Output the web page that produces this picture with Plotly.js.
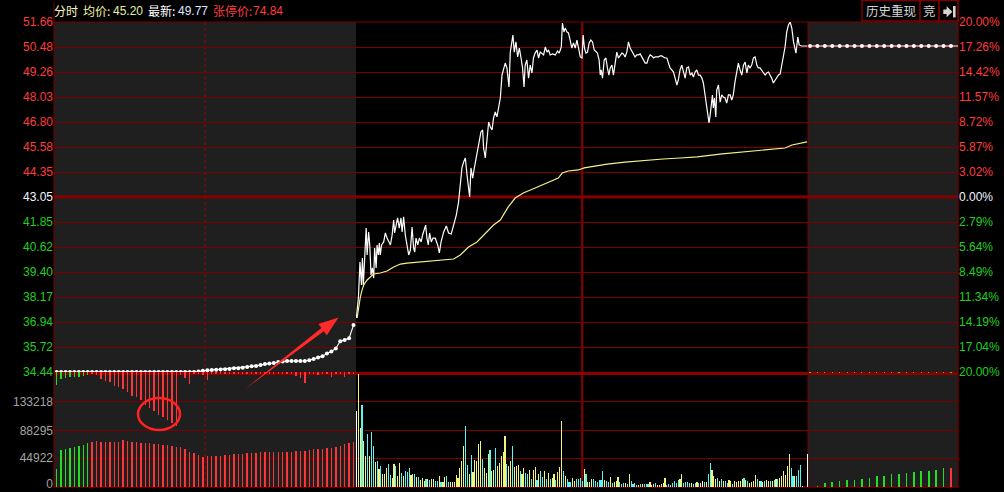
<!DOCTYPE html>
<html><head><meta charset="utf-8">
<script src="https://cdn.plot.ly/plotly-3.0.1.min.js"></script>
<style>html,body{margin:0;padding:0;background:#000;overflow:hidden}#chart{width:1004px;height:492px}</style>
</head><body><div id="chart"></div>
<script>
// ---------------- DATA ----------------
const prevClose = 43.05;
const header = {avg:'45.20', last:'49.77', limit:'74.84'};

// call-auction section (left grey area)
const auctionPrice = [34.44,34.44,34.44,34.44,34.44,34.44,34.44,34.44,34.44,34.44,34.44,34.44,34.44,34.44,34.44,34.44,
34.44,34.44,34.44,34.44,34.44,34.44,34.44,34.44,34.44,34.44,34.44,34.44,34.44,34.44,34.44,34.44,
34.46,34.50,34.52,34.54,34.55,34.56,34.58,34.59,34.62,34.63,34.65,34.68,34.72,34.74,34.78,34.83,34.86,34.88,
34.93,34.96,34.98,34.98,34.98,34.98,34.98,35.02,35.08,35.15,35.22,35.35,35.45,35.60,35.95,36.02,36.10,36.75];
const auctionVolume = [27600,57800,58900,60400,62000,64000,65600,69200,
70800,71900,70800,70800,70800,70800,70800,73400,71900,70800,
69800,68200,69200,68200,66700,66700,65600,65600,64000,62000,
62000,58900,55200,52600,50000,47400,48400,48400,48400,48900,
50000,50000,51000,51500,51500,52600,52600,53600,54200,54700,
54700,55200,55200,55200,55200,55200,56200,56700,56700,57800,
58900,59400,59800,60400,60400,62900,64500,67200,69500,70800];
const auctionVolDir = 'GGGGGGGGRRRRRRRRRRRRRRRRRRRRRRRRRRRRRRRRRRRRRRRRRRRRRRRRRRRRRRRRRRRR'.split('');
// unmatched volume (negative = sell side, green)
const auctionUnmatched = [-20300,-10900,-9400,-7800,-7800,-7800,-6200,-4700,
3100,4700,10900,14100,15600,21900,23400,26600,31200,37500,39100,43700,51500,56200,60900,67200,70300,75000,79700,84300,
4700,9400,18700,3100,3100,4700,12500,3100,3100,3100,3100,3100,3100,3100,3100,3100,3100,3100,3100,3100,3100,3100,3100,3100,3100,3100,
6200,9400,17200,3100,3100,4700,3100,3100,7800,3100,3100,7800,3100,3100];

// continuous trading (minutes after 09:30, 0..240)
const mainMinute = [0,1.1,1.9,2.7,3.2,3.7,5.2,5.7,6.5,7.1,
7.8,8.5,9.2,9.7,10.5,11.0,11.7,12.2,12.7,13.4,
14.5,15.4,16.3,17.2,18.1,19.0,19.8,20.3,21.1,21.9,
22.8,23.7,24.3,25.1,26.0,26.9,27.8,28.7,29.6,30.4,
31.0,31.7,32.6,33.5,34.4,35.2,36.1,36.8,37.5,38.2,
38.9,39.8,40.7,41.9,43.2,44.1,45.0,46.4,47.8,49.0,
50.4,51.7,53.1,54.3,55.2,56.1,57.0,57.9,58.8,59.6,
60.2,60.9,61.8,62.7,63.6,64.4,65.3,66.2,67.1,67.6,
68.5,69.4,70.3,71.2,72.1,72.9,73.8,74.7,75.6,76.5,
77.4,78.2,79.1,80.0,80.6,81.1,81.8,82.7,83.2,83.9,
84.8,85.7,86.6,87.5,88.3,89.1,89.7,90.6,91.5,92.4,
93.3,94.1,95.0,96.0,96.8,97.7,98.6,99.5,100.4,101.3,
102.1,103.0,104.2,105.7,106.9,107.8,108.9,109.5,110.3,111.0,
111.9,112.7,113.6,114.5,115.4,116.3,117.2,118.1,119.0,119.9,
120.5,121.2,122.0,122.8,123.7,124.6,125.5,126.4,127.3,128.1,
129.0,129.6,130.1,130.8,131.7,132.6,133.4,134.2,134.9,135.8,
136.6,137.5,138.4,139.3,140.2,141.1,141.9,142.8,143.7,144.6,
145.5,146.4,147.2,148.1,149.0,149.9,150.8,151.7,152.6,153.5,
154.4,155.2,156.1,157.0,157.9,158.8,159.7,160.5,161.4,162.3,
163.2,164.1,165.0,165.8,166.7,167.6,168.5,169.4,170.3,171.1,
172.0,172.9,173.8,174.7,175.6,176.5,177.4,178.3,179.1,180.0,
180.9,181.8,182.7,183.6,184.4,185.3,186.2,186.9,187.4,188.0,
188.5,189.2,189.7,190.3,191.0,191.5,192.4,193.3,194.2,195.0,
195.9,196.8,197.7,198.6,199.5,200.3,201.2,202.1,203.0,203.9,
204.8,205.7,206.6,207.5,208.3,209.2,210.1,211.0,211.9,212.8,
213.6,214.5,215.4,216.3,217.2,218.1,219.0,219.8,220.7,221.6,
222.5,223.4,224.3,225.2,226.1,226.9,227.8,228.7,229.6,230.5,
231.4,232.3,232.8,233.6,234.1,234.6,235.3,236.4,237.5,238.6,239.7];
const mainPrice = [37.10,38.13,39.85,38.72,40.05,38.72,41.52,40.20,41.33,40.69,
39.21,39.56,39.06,40.54,39.56,40.69,40.20,40.79,40.20,40.69,
40.84,41.28,41.03,40.84,40.69,41.18,41.92,41.28,41.67,42.02,
41.52,42.02,41.33,42.07,41.18,40.69,40.20,40.44,41.57,40.54,
40.34,41.03,40.69,41.03,40.84,41.18,41.42,41.67,41.03,40.69,
41.28,40.84,41.03,41.03,40.69,40.30,40.84,41.33,41.62,41.28,
41.23,41.67,42.16,42.80,43.79,44.48,44.77,44.97,44.13,43.49,
43.05,44.48,43.98,44.48,44.97,45.46,45.95,46.25,46.35,45.46,
44.97,45.76,46.74,46.49,46.35,46.94,47.23,46.99,47.43,47.92,
49.05,49.40,49.64,49.40,48.71,48.46,50.18,50.87,51.02,50.18,
50.68,49.94,50.38,49.89,49.40,48.46,49.54,49.79,48.90,49.54,
49.15,49.89,50.13,50.28,49.89,50.18,50.13,50.04,50.43,50.18,
50.28,50.04,50.09,50.04,50.23,50.13,50.43,51.61,51.17,51.36,
51.17,51.12,50.77,50.38,50.63,50.38,50.77,50.38,49.94,49.89,
51.02,50.38,50.13,50.18,50.63,50.77,50.68,50.28,50.18,50.13,
49.79,49.05,49.30,48.90,49.79,49.89,49.40,49.05,49.40,49.54,
49.05,49.64,50.18,49.89,50.04,50.13,50.09,49.94,50.18,50.68,
50.38,50.23,50.13,49.94,50.04,50.04,50.09,49.94,49.79,49.64,
49.64,49.89,50.04,49.99,49.89,49.94,49.94,49.94,49.99,49.99,
49.94,49.89,49.89,49.64,49.40,49.30,49.20,48.90,48.56,48.81,
49.30,49.54,49.15,48.90,49.40,49.45,49.05,49.15,48.95,49.20,
49.30,49.05,49.05,48.90,48.66,48.07,47.72,47.08,46.69,47.08,
47.58,48.07,47.43,47.92,46.99,48.31,48.56,47.72,48.07,47.97,
47.92,47.67,48.07,48.07,47.82,48.07,48.71,49.15,49.64,49.30,
49.05,49.54,49.69,49.15,49.54,49.40,49.54,49.89,49.94,49.54,
49.40,49.40,49.30,49.15,49.05,49.15,49.20,49.05,48.90,48.66,
48.81,48.95,49.05,49.10,49.54,49.94,50.43,51.17,51.51,51.66,
51.36,50.68,50.38,50.13,50.53,50.92,50.53,50.48,50.48,50.48,50.48];
const avgMinute = [0.4,1.2,2.1,3.0,3.9,5.7,7.4,9.2,12.7,16.3,19.8,23.4,26.9,32.2,37.5,44.6,51.7,55.2,57.9,59.6,
64.1,66.7,69.4,72.9,76.5,78.2,80.7,84.4,88.7,95.0,102.0,107.3,109.4,112.6,117.9,121.1,124.3,133.3,142.8,154.5,
163.0,172.0,181.1,194.4,206.6,217.2,227.8,231.5,236.8,239.5];
const avgPrice = [37.10,37.64,38.13,38.47,38.72,38.97,39.11,39.26,39.31,39.41,39.61,39.75,39.80,39.85,39.90,39.95,40.00,40.20,40.44,40.59,
40.84,41.08,41.33,41.67,41.92,42.16,42.56,43.00,43.25,43.49,43.79,43.98,44.23,44.33,44.38,44.48,44.53,44.67,44.77,44.87,
44.92,44.97,45.02,45.17,45.27,45.36,45.46,45.61,45.71,45.76];
const mainVolume = [119000,176000,92000,128400,72300,48900,83200,48900,85300,63400,
38500,40000,28600,33300,20800,20800,30200,36400,19200,14600,
36400,33300,17700,38000,21800,17700,25500,23900,30200,19200,
19800,20800,16100,16100,11400,14600,9900,13000,13000,11400,
13000,13000,8800,9900,17700,8300,8300,16100,17700,8300,
8300,8300,8300,19200,14600,30200,41100,64500,95700,34800,
20800,50400,23900,42600,41100,67600,72300,44200,30200,22400,
52000,58200,25500,27000,61400,33300,38000,48900,55100,80100,
36400,33300,41100,64500,31700,33300,34800,25500,20800,30200,
22400,20800,27000,13000,27000,31700,11400,20800,25500,16100,
25500,13000,22400,13000,14600,20800,11400,23900,31700,103500,
25500,17700,13000,8300,8300,14600,9900,13000,13000,14600,
9900,
28600,20800,8300,8300,13000,13000,9900,8300,11400,11400,
25500,11400,9900,8300,16100,6800,8300,9900,16100,8300,
5200,6800,6800,5200,20800,9900,5200,6800,3600,3600,
5200,5200,5200,5200,5200,8300,3600,5200,6800,3600,
3600,5200,6800,14600,3600,5200,3600,6800,9900,6800,
11400,13000,20800,6800,8300,8300,6800,6800,5200,6800,
8300,6800,6800,9900,8300,8300,20800,38000,27000,17700,
13000,14600,9900,13000,9900,9900,6800,11400,9900,5200,
9900,8300,9900,9900,13000,14600,11400,9900,6800,8300,
9900,19200,13000,9900,9900,8300,9900,11400,9900,9900,
9900,11400,13000,13000,14600,17700,25500,19200,33300,52000,
30200,17700,17700,17700,27000,34800,2100,0,0,52000];
// Y = up tick, C = down tick, W = unchanged, N = none
const mainVolDir = ('WYYCYYCYCC'+'YCYCYYYCCY'+'YCYYCYCCCY'+'YCYCYYYCYC'+'YYCCYCYYCC'+'YYYYYYYYCC'+
'YCYYYYYCYY'+'YCYYCYYYYY'+'CYYCYYYCYY'+'CCYCYYCYCC'+'YCYCYYCYYY'+'CYCCCYYCCC'+'C'+
'YCYYYCCCCC'+'CYCCYCYYYC'+'CCYCYCCCCY'+'CYCCCYYYCY'+'YYYYCCCCCC'+'CYYCCCCYCC'+
'YCYWCYCCYY'+'YCYCYCCYYC'+'YYYYYCYCYY'+'YYCYCYCYYC'+'YCYCYYYYYY'+'CCYCCCWNNW').split('');

// after-close section (right grey area)
const rightPrice = [50.48,50.48,50.48,50.48,50.48,50.48,50.48,50.48,50.48,50.48,50.48,50.48,50.48,50.48,50.48,50.48,50.48,50.48,50.48,50.48,50.48];
const rightVolume = [0,1500,6200,7300,8900,10400,11400,13000,14600,16700,17700,19800,20800,21900,23400,24500,25500,26000,29700,29700,29700];
const rightVolDir = 'NGGGGGGGGGGGGGGGGGGRR'.split('');
const rightUnmatched = [2300,2300,2300,2300,2300,2300,2300,2300,2300,2300,2300,2300,2300,2300,2300,2300,2300,2300,2300,2300,2300];

const priceTickLabels = ['34.44','35.72','36.94','38.17','39.40','40.62','41.85','43.05','44.35','45.58','46.80','48.03','49.26','50.48','51.66'];
const pctTickLabels = ['20.00%','17.04%','14.19%','11.34%','8.49%','5.64%','2.79%','0.00%','3.02%','5.87%','8.72%','11.57%','14.42%','17.26%','20.00%'];
const volTickVals = [0,44922,88295,133218];
const volTickLabels = ['0','44922','88295','133218'];

// ---------------- LAYOUT ----------------
const W=1004,H=492,L=54,R=46,T=22,B=5;
const PW=W-L-R, PH=H-T-B;
const px = v => (v-L)/PW;
const py = v => (H-B-v)/PH;
const xs1 = px(356), xs2 = px(808), ys = py(372);
const pLo = prevClose*0.8, pHi = prevClose*1.2;
const volTop = 179700;
const ax1Range = [-0.61, 67.56], ax2Range = [-0.2, 240.0], ax3Range = [-0.27, 19.95];
const x2paper = m => xs1 + (m-ax2Range[0])/(ax2Range[1]-ax2Range[0])*(xs2-xs1);
const x1paper = i => (i-ax1Range[0])/(ax1Range[1]-ax1Range[0])*xs1;
const ypaper = p => ys + (p-pLo)/(pHi-pLo)*(1-ys);

const RED='#ff3c3c', GREEN='#1fd01f', WHITE='#f0f4ff';
const priceTickVals = priceTickLabels.map((_,k)=>pLo + k*(pHi-pLo)/14);
const colFor = k => k<7?GREEN:(k===7?WHITE:RED);
const priceTickText = priceTickLabels.map((t,k)=>`<span style="color:${colFor(k)}">${t}</span>`);
const pctTickText = pctTickLabels.map((t,k)=>`<span style="color:${colFor(k)}">${t}</span>`);

const cmap = {Y:'#f4f47c', C:'#55f6f6', W:'#ffffff', N:'rgba(0,0,0,0)', G:'#22dd22', R:'#ff3535'};
const auctionIdx = auctionPrice.map((_,i)=>i);
const mainIdx = mainVolume.map((_,i)=>i);
const rightIdx = rightPrice.map((_,i)=>i);

const traces = [
 {type:'bar', x:auctionIdx, y:auctionVolume, xaxis:'x', yaxis:'y2', width:0.32,
  marker:{color:auctionVolDir.map(c=>cmap[c]), line:{width:0}}, hoverinfo:'skip'},
 {type:'bar', x:auctionIdx, y:auctionUnmatched.map(Math.abs), xaxis:'x', yaxis:'y4', width:0.32,
  marker:{color:auctionUnmatched.map(v=>v<0?cmap.G:cmap.R), line:{width:0}}, hoverinfo:'skip'},
 {type:'bar', x:mainIdx, y:mainVolume, xaxis:'x2', yaxis:'y2', width:0.6,
  marker:{color:mainVolDir.map(c=>cmap[c]), line:{width:0}}, hoverinfo:'skip'},
 {type:'bar', x:rightIdx, y:rightVolume, xaxis:'x3', yaxis:'y2', width:0.22, cliponaxis:false,
  marker:{color:rightVolDir.map(c=>cmap[c]), line:{width:0}}, hoverinfo:'skip'},
 {type:'bar', x:rightIdx, y:rightUnmatched, xaxis:'x3', yaxis:'y4', width:0.15,
  marker:{color:cmap.G, line:{width:0}}, hoverinfo:'skip'},
 {type:'scatter', mode:'lines+markers', x:auctionIdx, y:auctionPrice, xaxis:'x', yaxis:'y',
  line:{color:'#ffffff', width:1.1}, marker:{color:'#ffffff', size:4, symbol:'circle'}, hoverinfo:'skip'},
 {type:'scatter', mode:'lines', x:mainMinute, y:mainPrice, xaxis:'x2', yaxis:'y',
  line:{color:'#ffffff', width:1.2}, hoverinfo:'skip'},
 {type:'scatter', mode:'lines', x:avgMinute, y:avgPrice, xaxis:'x2', yaxis:'y',
  line:{color:'#f2f28a', width:1.2}, hoverinfo:'skip'},
 {type:'scatter', mode:'lines+markers', x:rightIdx, y:rightPrice, xaxis:'x3', yaxis:'y', cliponaxis:false,
  line:{color:'#ffffff', width:1.2}, marker:{color:'#ffffff', size:4, symbol:'circle'}, hoverinfo:'skip'},
 {type:'scatter', mode:'markers', x:[0], y:[prevClose], xaxis:'x3', yaxis:'y3', marker:{opacity:0}, hoverinfo:'skip'},
 {type:'scatter', mode:'markers', x:[0], y:[0], xaxis:'x', yaxis:'y5', marker:{opacity:0}, hoverinfo:'skip'}
];

const GRID='#7a0000', THICK='#8e0000';
const tf = {family:'Liberation Sans, Arial, sans-serif', size:12};
const volFont = Object.assign({color:'#a4a4a4'}, tf);
const hidden = {visible:false, fixedrange:true};

function arrowPath(tx,ty,hx,hy,headLen,headHalf,shaftHalf){
  const dx=hx-tx, dy=hy-ty, len=Math.hypot(dx,dy), ux=dx/len, uy=dy/len, nx=-uy, ny=ux;
  const bx=hx-ux*headLen, by=hy-uy*headLen;
  const pts=[[tx,ty],[bx+nx*shaftHalf,by+ny*shaftHalf],[bx+nx*headHalf,by+ny*headHalf],[hx,hy],
             [bx-nx*headHalf,by-ny*headHalf],[bx-nx*shaftHalf,by-ny*shaftHalf]];
  return 'M'+pts.map(p=>px(p[0]).toFixed(5)+','+py(p[1]).toFixed(5)).join(' L')+' Z';
}
function polyPath(pts){ return 'M'+pts.map(p=>px(p[0]).toFixed(5)+','+py(p[1]).toFixed(5)).join(' L')+' Z'; }

const hline = (y,color,width) => ({type:'line', xref:'paper', yref:'paper', x0:0, x1:1, y0:y, y1:y, line:{color, width}, layer:'below'});
const vline = (x,y0,y1,color,width,dash) => ({type:'line', xref:'paper', yref:'paper', x0:x, x1:x, y0, y1, line:{color, width, dash:dash||'solid'}, layer:'below'});
const box = (x0,x1) => ({type:'rect', xref:'paper', yref:'paper', x0:px(x0), x1:px(x1), y0:py(21), y1:py(0.5), line:{color:'#7a0000', width:1.5}, fillcolor:'rgba(0,0,0,0)'});

const shapes = [
 {type:'rect', xref:'paper', yref:'paper', x0:0, x1:xs1, y0:0, y1:1, fillcolor:'#1f1f1f', line:{width:0}, layer:'below'},
 {type:'rect', xref:'paper', yref:'paper', x0:xs2, x1:1, y0:0, y1:1, fillcolor:'#1f1f1f', line:{width:0}, layer:'below'},
 hline(1, GRID, 1),
 hline(ypaper(pLo)-1.5/PH, THICK, 3),
 hline(ypaper(prevClose), THICK, 3),
 hline(0, GRID, 1.5),
 vline(x2paper(120), 0, 1, THICK, 2),
 vline(xs2, 0, 1, GRID, 1),
 vline(x1paper((auctionPrice.length-1)/2), 0, 1, '#a00000', 1, 'dot'),
 vline(0, 0, py(2), GRID, 1),
 vline(1, 0, py(0), GRID, 1.2),
 box(862,920), box(920,939), box(939,958),
 {type:'path', xref:'paper', yref:'paper', path:polyPath([[943.3,9.4],[946.6,9.4],[946.6,6.2],[952.4,11.7],[946.6,17.2],[946.6,14],[943.3,14]]), fillcolor:'#d4d4d4', line:{width:0}},
 {type:'path', xref:'paper', yref:'paper', path:polyPath([[953,6],[955.6,6],[955.6,17.4],[953,17.4]]), fillcolor:'#d4d4d4', line:{width:0}},
 {type:'circle', xref:'paper', yref:'paper', x0:px(138), x1:px(180), y0:py(430), y1:py(398), line:{color:'#ff2222', width:2.5}},
 {type:'path', xref:'paper', yref:'paper', path:arrowPath(245,389,338.5,317.5,20,7,2), fillcolor:'#ff2a2a', line:{width:0}}
];

const cjk = 'Noto Sans CJK SC, sans-serif';
const lat = 'Liberation Sans, Arial, sans-serif';
const ann = (text,x,color,family,size,anchor) => ({xref:'paper', yref:'paper', x:px(x), y:py(11), xanchor:anchor||'left', yanchor:'middle',
  text, showarrow:false, font:{color, family, size:size||12}, borderpad:0});
const annotations = [
 ann('分时', 52.5, '#f4f4c4', cjk),
 ann('均价:', 81.5, '#f2f2a8', cjk),
 ann(header.avg, 111.5, '#e4eea0', lat),
 ann('最新:', 146.5, '#ffffff', cjk),
 ann(header.last, 176.5, '#dfe8ff', lat),
 ann('张停价:', 211.5, RED, cjk),
 ann(header.limit, 252, RED, lat),
 ann('历史重现', 891, '#d4d4d4', cjk, 12.5, 'center'),
 ann('竞', 929.5, '#d4d4d4', cjk, 12.5, 'center')
];

const layout = {
 width:W, height:H, autosize:false,
 margin:{l:L, r:R, t:T, b:B, pad:0},
 paper_bgcolor:'#000000', plot_bgcolor:'rgba(0,0,0,0)',
 showlegend:false, barmode:'overlay', bargap:0, hovermode:false,
 xaxis: Object.assign({domain:[0,xs1], range:ax1Range, anchor:'y2'}, hidden),
 xaxis2: Object.assign({domain:[xs1,xs2], range:ax2Range, anchor:'y2'}, hidden),
 xaxis3: Object.assign({domain:[xs2,1], range:ax3Range, anchor:'y2'}, hidden),
 yaxis: {domain:[ys,1], range:[pLo-0.0001,pHi+0.0001], anchor:'x', side:'left',
   tickmode:'array', tickvals:priceTickVals, ticktext:priceTickText, tickfont:tf, ticklabeloverflow:'allow',
   showgrid:true, gridcolor:GRID, gridwidth:1, zeroline:false, showline:false, ticks:'', fixedrange:true},
 yaxis3: {overlaying:'y', anchor:'x3', side:'right', range:[pLo-0.0001,pHi+0.0001],
   tickmode:'array', tickvals:priceTickVals, ticktext:pctTickText, tickfont:tf, ticklabeloverflow:'allow',
   showgrid:false, zeroline:false, showline:false, ticks:'', fixedrange:true},
 yaxis2: {domain:[0,ys], range:[-0.0001,volTop], anchor:'x', side:'left',
   tickmode:'array', tickvals:volTickVals.slice(1), ticktext:volTickLabels.slice(1), tickfont:volFont,
   ticklabeloverflow:'allow',
   showgrid:true, gridcolor:GRID, gridwidth:1, zeroline:false, showline:false, ticks:'', fixedrange:true},
 yaxis5: {overlaying:'y2', anchor:'x', side:'left', range:[-0.0001,volTop],
   tickmode:'array', tickvals:volTickVals.slice(0,1), ticktext:volTickLabels.slice(0,1), tickfont:volFont,
   ticklabeloverflow:'allow', ticklabelshift:-3,
   showgrid:false, zeroline:false, showline:false, ticks:'', fixedrange:true},
 yaxis4: {overlaying:'y2', anchor:'x', range:[volTop,0], visible:false, fixedrange:true},
 shapes, annotations
};

Plotly.newPlot('chart', traces, layout, {staticPlot:true, displayModeBar:false});
</script>
</body></html>
